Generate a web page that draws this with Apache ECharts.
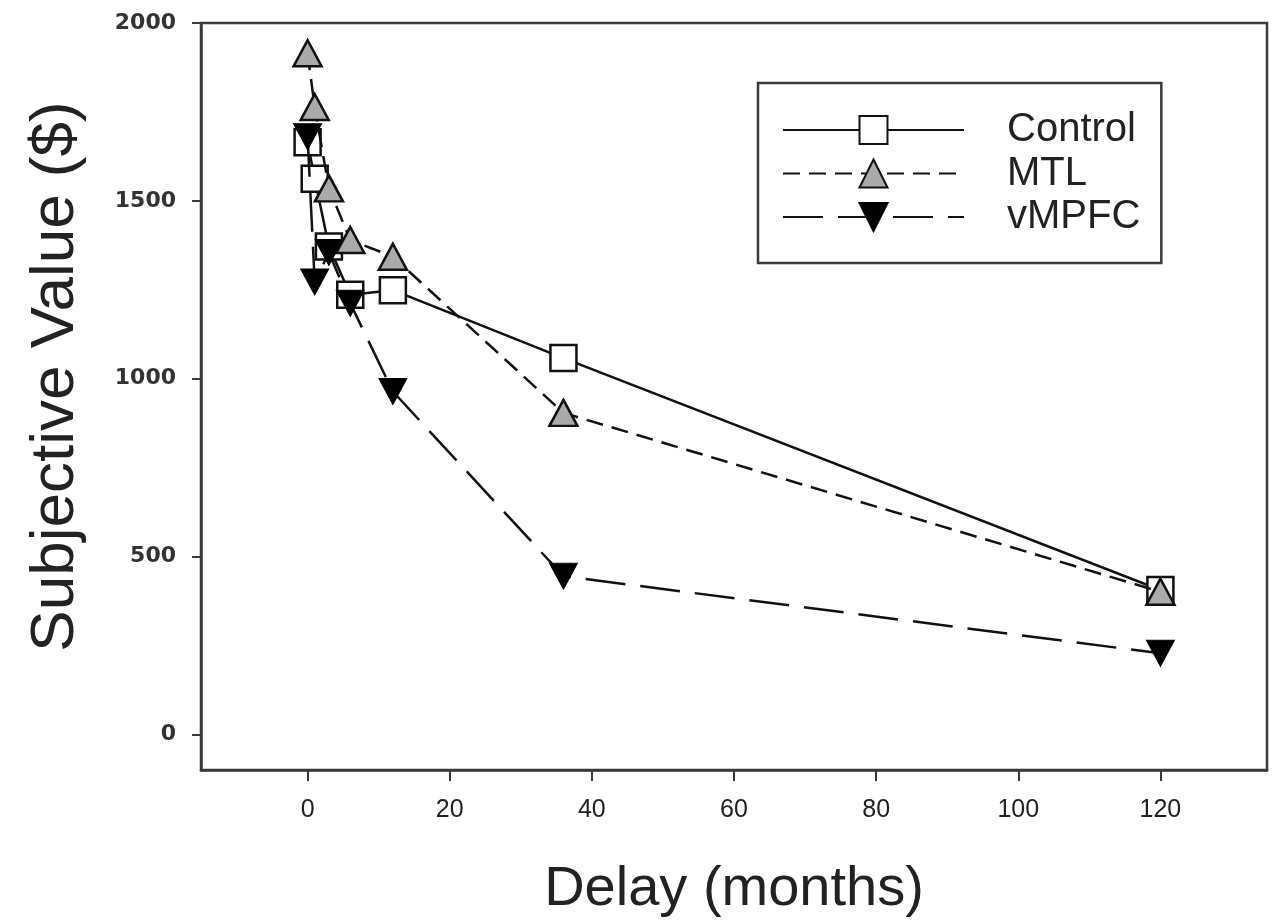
<!DOCTYPE html>
<html>
<head>
<meta charset="utf-8">
<script src="https://cdn.jsdelivr.net/npm/echarts@6/dist/echarts.min.js"></script>
<style>
  html, body { margin: 0; padding: 0; background: #fff; }
  #chart { width: 1280px; height: 924px; }
</style>
</head>
<body>
<div id="chart"></div>
<script>
// delay in months
const delays = [0, 1, 3, 6, 12, 36, 120];
// subjective value ($) per group
const controlValues = [1665, 1562, 1372, 1236, 1249, 1058, 406];
const mtlValues = [1915, 1764, 1535, 1390, 1343, 904, 401];
const vmpfcValues = [1680, 1272, 1355, 1212, 964, 445, 228];

const xTicks = [0, 20, 40, 60, 80, 100, 120];
const yTicks = [0, 500, 1000, 1500, 2000];

const FONT = '"Liberation Sans", Arial, sans-serif';
const INK = '#222';
const AXIS = '#3a3a3a';

const pairs = vals => delays.map((d, i) => [d, vals[i]]);

const chart = echarts.init(document.getElementById('chart'));

chart.setOption({
  animation: false,
  backgroundColor: '#fff',
  textStyle: { fontFamily: FONT },
  grid: {
    left: 201, right: 13, top: 23, bottom: 154,
    show: true, borderColor: AXIS, borderWidth: 2.5
  },
  legend: {
    orient: 'vertical',
    left: 758, top: 83,
    itemWidth: 181, itemHeight: 35, itemGap: 3.5,
    padding: [27, 21, 26, 24],
    borderColor: AXIS, borderWidth: 2.5,
    textStyle: {
      fontSize: 40, lineHeight: 40, color: INK, fontFamily: FONT,
      padding: [0, 0, 0, 38]
    },
    data: ['Control', 'MTL', 'vMPFC']
  },
  xAxis: {
    type: 'value',
    min: -15, max: 135,
    name: 'Delay (months)',
    nameLocation: 'middle',
    nameGap: 92,
    nameTextStyle: { fontSize: 56, color: INK, fontFamily: FONT },
    axisLine: { onZero: false, lineStyle: { color: AXIS, width: 2.5 } },
    axisTick: { show: true, length: 11, customValues: xTicks, lineStyle: { color: AXIS, width: 2 } },
    axisLabel: { customValues: xTicks, fontSize: 25, color: INK, margin: 28, fontFamily: FONT },
    splitLine: { show: false }
  },
  yAxis: {
    type: 'value',
    min: -100, max: 2000,
    name: 'Subjective Value ($)',
    nameLocation: 'middle',
    nameRotate: 90,
    nameGap: 114,
    nameTextStyle: { fontSize: 62, color: INK, fontFamily: FONT, padding: [0, 0, 0, 40] },
    axisLine: { show: true, onZero: false, lineStyle: { color: AXIS, width: 2.5 } },
    axisTick: { show: true, length: 9, customValues: yTicks, lineStyle: { color: AXIS, width: 2 } },
    axisLabel: {
      customValues: yTicks,
      formatter: v => String(v),
      fontSize: 22, fontWeight: 'bold', color: '#333', margin: 25,
      fontFamily: '"DejaVu Sans", sans-serif'
    },
    splitLine: { show: false }
  },
  series: [
    {
      name: 'Control',
      type: 'line',
      data: pairs(controlValues),
      symbol: 'rect',
      symbolSize: 26,
      lineStyle: { color: '#111', width: 2.5, type: 'solid' },
      itemStyle: { color: '#fff', borderColor: '#111', borderWidth: 2.5 },
      z: 2
    },
    {
      name: 'MTL',
      type: 'line',
      data: pairs(mtlValues),
      symbol: 'triangle',
      symbolSize: [28, 26],
      lineStyle: { color: '#111', width: 2.5, type: [17, 9] },
      itemStyle: { color: '#aaa', borderColor: '#111', borderWidth: 2.5 },
      z: 3
    },
    {
      name: 'vMPFC',
      type: 'line',
      data: pairs(vmpfcValues),
      symbol: 'triangle',
      symbolRotate: 180,
      symbolSize: [28, 26],
      lineStyle: { color: '#111', width: 2.5, type: [40, 15] },
      itemStyle: { color: '#000', borderColor: '#000', borderWidth: 1 },
      z: 4
    }
  ]
});
</script>
</body>
</html>
